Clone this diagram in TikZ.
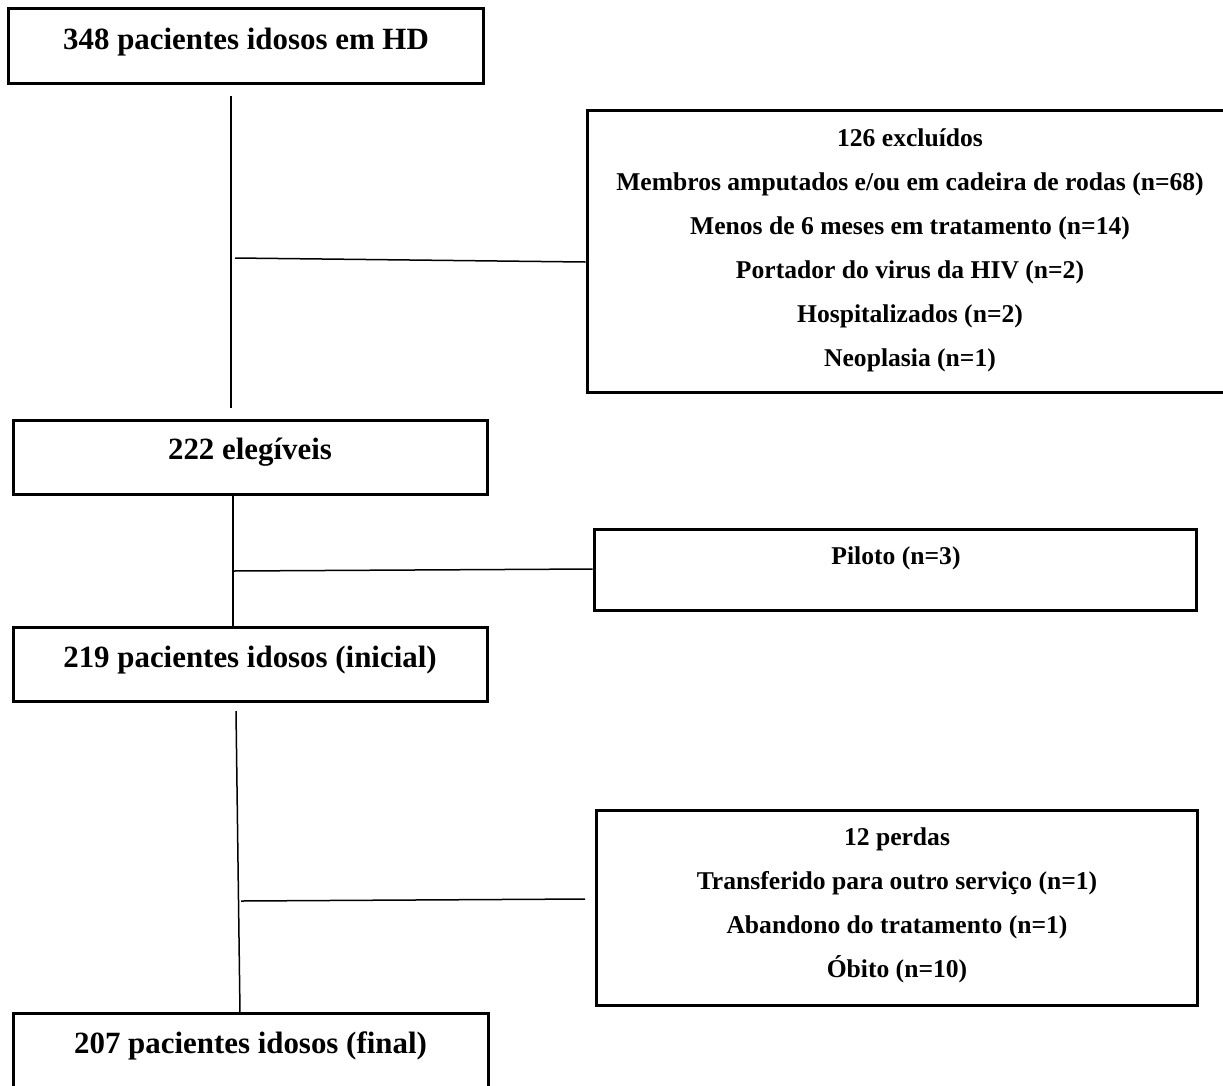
\documentclass[tikz,border=0pt]{standalone}
\usepackage{fontspec}
\setmainfont{Liberation Serif}
\begin{document}
\begin{tikzpicture}[x=1pt,y=-1pt,
  box/.style={draw,line width=3pt,inner sep=0pt},
  conn/.style={line width=1.5pt},
  head/.style={font=\fontsize{30.9}{36}\selectfont\bfseries},
  item/.style={font=\fontsize{25.6}{44}\selectfont\bfseries,align=center}]
\useasboundingbox (0,0) rectangle (1223,1085);
\clip (0,0) rectangle (1223,1085);
% main boxes
\node[box,minimum width=475pt,minimum height=75pt] (b1) at (245.5,45.5) {};
\node[head] (t1) at (246,42.5) {348 pacientes idosos em HD};
\node[box,minimum width=474pt,minimum height=74pt] (b2) at (250,457) {};
\node[head] (t2) at (250,452.5) {222 elegíveis};
\node[box,minimum width=474pt,minimum height=74pt] (b3) at (250,664) {};
\node[head] (t3) at (250,660.5) {219 pacientes idosos (inicial)};
\node[box,minimum width=475pt,minimum height=100pt] (b4) at (250.5,1063) {};
\node[head] (t4) at (250.5,1045.5) {207 pacientes idosos (final)};
% side boxes
\node[box,minimum width=643pt,minimum height=282pt] (ex) at (908.5,251) {};
\node[item] (ext) at (910,250) {126 excluídos\\Membros amputados e/ou em cadeira de rodas (n=68)\\Menos de 6 meses em tratamento (n=14)\\Portador do virus da HIV (n=2)\\Hospitalizados (n=2)\\Neoplasia (n=1)};
\node[box,minimum width=602pt,minimum height=81pt] (pil) at (895,569.5) {};
\node[item] (pilt) at (896,558.5) {Piloto (n=3)};
\node[box,minimum width=601pt,minimum height=195pt] (pe) at (896.5,907.5) {};
\node[item] (pet) at (897,905.5) {12 perdas\\Transferido para outro serviço (n=1)\\Abandono do tratamento (n=1)\\Óbito (n=10)};
% connector end points
\coordinate (v1a) at (231,96);
\coordinate (v1b) at (231,408);
\coordinate (h1a) at (235,258);
\coordinate (h1b) at (ex.west |- 0,262);
\coordinate (v2a) at (233,494);
\coordinate (v2b) at (233,626);
\coordinate (h2a) at (233,571);
\coordinate (h2b) at (pil.west |- 0,569);
\coordinate (v3a) at (236,711);
\coordinate (v3b) at (240,1013);
\coordinate (h3a) at (241,901);
\coordinate (h3b) at (585,899);
\draw[conn] (v1a) -- (v1b);
\draw[conn] (h1a) -- (h1b);
\draw[conn] (v2a) -- (v2b);
\draw[conn] (h2a) -- (h2b);
\draw[conn] (v3a) -- (v3b);
\draw[conn] (h3a) -- (h3b);
\end{tikzpicture}
\end{document}
